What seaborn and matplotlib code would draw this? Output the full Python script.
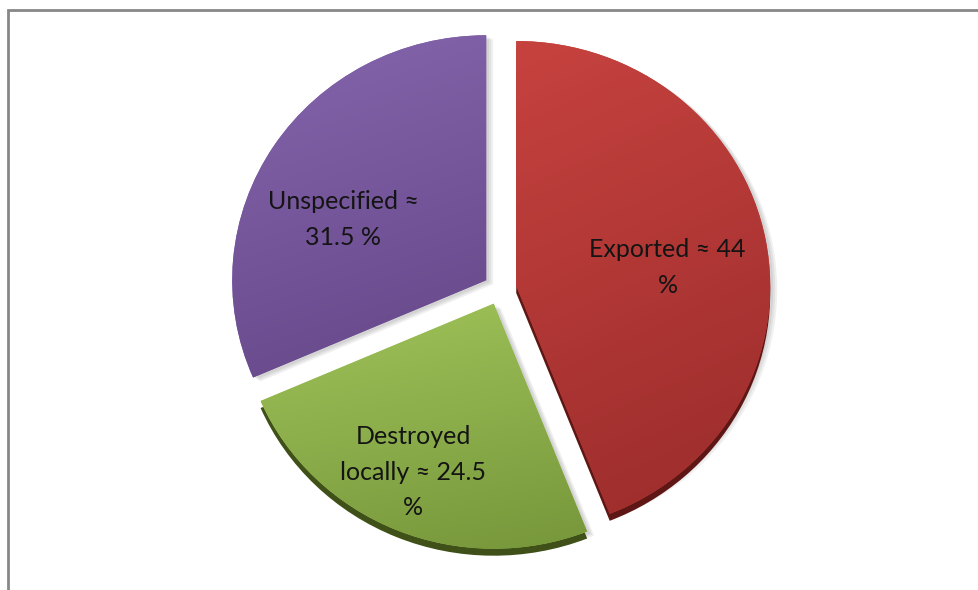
import numpy as np
import matplotlib
matplotlib.use("Agg")
import matplotlib.pyplot as plt
from matplotlib.colors import LinearSegmentedColormap
from matplotlib.patches import Rectangle
import seaborn as sns

# Fate of the stock, in percent
categories = ["Exported", "Destroyed locally", "Unspecified"]
shares = [44, 24.5, 31.5]
label_templates = ["Exported ≈ {v:g}\n%", "Destroyed\nlocally ≈ {v:g}\n%", "Unspecified ≈\n{v:g} %"]

sns.set_theme(style="white")
plt.rcParams["font.family"] = ["Lato", "DejaVu Sans"]

# light / dark tones for each slice face, and the colour of the extruded rim
light = ["#c6423f", "#a0c35a", "#8566ad"]
dark = ["#9a2c2b", "#76963a", "#654688"]
rim = ["#5e1715", "#3f5018", "none"]
label_r = [0.60, 0.757, 0.615]
label_turn = [-3.7, -2.3, 9.7]   # degrees, relative to the slice's mid angle

W, H = 979, 590
fig = plt.figure(figsize=(W / 100, H / 100), dpi=100)
ax = fig.add_axes([0, 0, 1, 1])

cx, cy = 500, 289      # pie centre, pixels from top-left
sx, sy = 254, 245      # pixels per unit radius
explode = [0.065] * 3

# soft drop shadow, built from a few faint offset copies
for k, (dx, dy) in enumerate([(3, 2), (5, 3), (7, 4)]):
    ax.pie(shares, explode=explode, startangle=90, counterclock=False,
           colors=["#000000"] * 3, center=(dx / sx, -dy / sy), radius=1,
           wedgeprops=dict(linewidth=0, zorder=0.5, alpha=0.06))

# extruded base, a little lower than the face
rim_w, _ = ax.pie(shares, explode=explode, startangle=90, counterclock=False,
                  colors=rim, center=(0, -7 / sy), radius=1,
                  wedgeprops=dict(linewidth=0, zorder=1))
face_w, _ = ax.pie(shares, explode=explode, startangle=90, counterclock=False,
                   colors=light, radius=1,
                   wedgeprops=dict(linewidth=0, zorder=2))

# shaded face: gradient from upper-left (light) to lower-right (dark)
for w, c0, c1 in zip(face_w, light, dark):
    verts = w.get_path().vertices
    x0, x1 = verts[:, 0].min(), verts[:, 0].max()
    y0, y1 = verts[:, 1].min(), verts[:, 1].max()
    gx, gy = np.meshgrid(np.linspace(0, 1, 64), np.linspace(0, 1, 64))
    t = 0.8 * gy + 0.2 * gx          # row 0 is the top of the image
    cmap = LinearSegmentedColormap.from_list("g", [c0, c1])
    im = ax.imshow(t, cmap=cmap, extent=(x0, x1, y0, y1), origin="upper",
                   aspect="auto", interpolation="bilinear", zorder=3)
    im.set_clip_path(w)

ax.set_aspect("auto")
ax.set_xlim(-cx / sx, (W - cx) / sx)
ax.set_ylim(-(H - cy) / sy, cy / sy)
ax.axis("off")

# slice labels
for w, tpl, v, r, turn in zip(face_w, label_templates, shares, label_r, label_turn):
    mid = np.deg2rad((w.theta1 + w.theta2) / 2 + turn)
    ccx, ccy = w.center
    ax.text(ccx + r * np.cos(mid), ccy + r * np.sin(mid), tpl.format(v=v),
            ha="center", va="center", fontsize=18, color="#141414",
            linespacing=1.68, zorder=5)

# chart-area frame
fig.patches.append(Rectangle((8.5 / W, -0.2), 1.5, 1.2 - 9.5 / H,
                             transform=fig.transFigure, fill=False,
                             edgecolor="#878787", linewidth=2.0))

fig.savefig("out.png", dpi=100, facecolor="white")
